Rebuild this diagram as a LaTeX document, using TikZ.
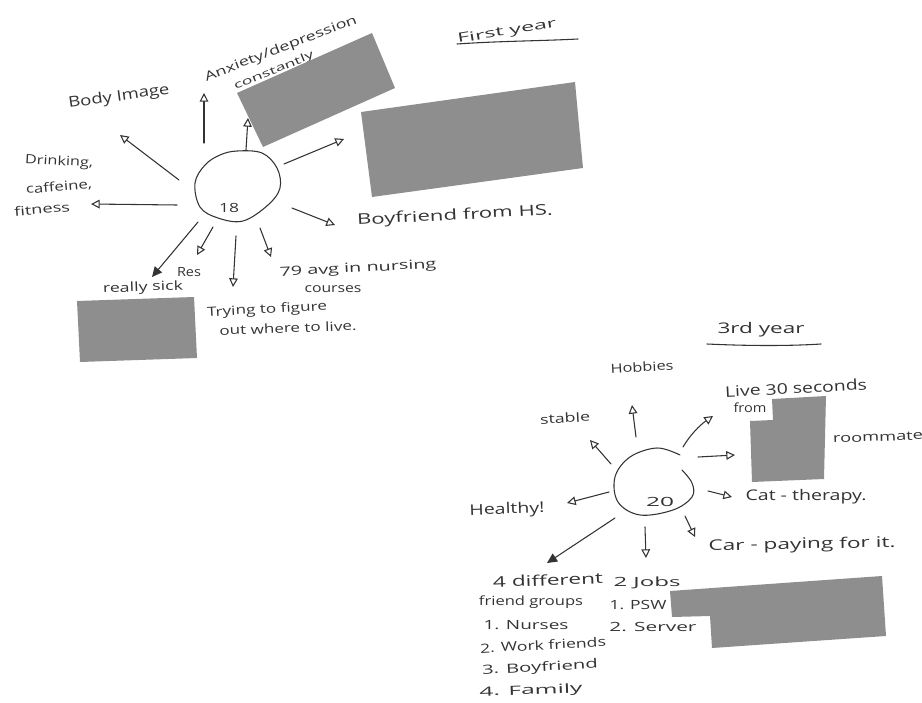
\documentclass[tikz,border=0pt]{standalone}
\usepackage{graphicx}
\usepackage{fontspec}
\setmainfont{Open Sans}
\usetikzlibrary{arrows.meta}
\newdimen\pxu \pxu=.75pt
\newcommand\hw[2]{\resizebox{#1\pxu}{\height}{#2}}
\definecolor{ink}{HTML}{333333}
\definecolor{redact}{HTML}{8E8E8E}
\tikzset{
  hand/.style={inner sep=0pt,text=ink,font=\fontsize{11}{12}\selectfont},
  small/.style={inner sep=0pt,text=ink,font=\fontsize{9.5}{10}\selectfont},
  tiny/.style={inner sep=0pt,text=ink,font=\fontsize{8}{9}\selectfont},
  pen/.style={draw=ink,line width=.8pt,line cap=round,line join=round},
  arr/.style={pen,-{Triangle[open,length=6.5pt,width=6.5pt]}},
  arrf/.style={pen,-{Triangle[length=7.5pt,width=7pt]}},
  block/.style={fill=redact,draw=none}
}
\begin{document}
\begin{tikzpicture}[x=.75pt,y=-.75pt]
\useasboundingbox (0,0) rectangle (922,703);
% --- First year labels
\node[small,rotate=9] (t1) at (507,32) {\hw{100}{First year}};
\node[hand,rotate=8] (body) at (119,97) {\hw{102}{Body Image}};
\node[small,rotate=21] (anx) at (281,49) {\hw{162}{Anxiety/depression}};
\node[tiny,rotate=22] (con) at (274,71) {\hw{85}{constantly}};
\node[small,rotate=-3] (dr) at (59,162) {\hw{68}{Drinking,}};
\node[small,rotate=5] (caf) at (59,187) {\hw{66}{caffeine,}};
\node[small,rotate=5] (fit) at (42,209) {\hw{56}{fitness}};
\node[hand,rotate=3] (bf) at (455,216) {\hw{196}{Boyfriend from HS.}};
\node[small] (res) at (189,272) {\hw{24}{Res}};
\node[small,rotate=2] (sick) at (143,288) {\hw{80}{really sick}};
\node[small,rotate=3] (avg) at (358,269) {\hw{157}{79 avg in nursing}};
\node[small] (crs) at (333,289) {\hw{57}{courses}};
\node[small,rotate=3] (try) at (267,310) {\hw{120}{Trying to figure}};
\node[small,rotate=2] (out) at (288,328) {\hw{137}{out where to live.}};
\node[small] (n18) at (229,208) {\hw{20}{18}};
% --- First year sketch
\node[draw=none,inner sep=0pt,minimum width=84\pxu,minimum height=70\pxu] (c1) at (237,186) {};
\draw[pen] plot[smooth cycle,tension=.6] coordinates {(237,151)(262,153)(277,168)(280,188)(268,205)(243,221)(218,218)(200,207)(195,183)(205,165)(220,155)};
\coordinate (a1s) at (179,180); \coordinate (a1e) at (120,135);
\coordinate (a2s) at (204,143); \coordinate (a2e) at (204,93);
\coordinate (a3s) at (246,150); \coordinate (a3e) at (248,118);
\coordinate (a4s) at (284,164); \coordinate (a4e) at (344,139);
\coordinate (a5s) at (292,208); \coordinate (a5e) at (335,225);
\coordinate (a6s) at (177,205); \coordinate (a6e) at (91,204);
\coordinate (a7s) at (198,222); \coordinate (a7e) at (152,277);
\coordinate (a8s) at (213,227); \coordinate (a8e) at (197,255);
\coordinate (a9s) at (236,236); \coordinate (a9e) at (233,287);
\coordinate (a10s) at (260,228); \coordinate (a10e) at (271,257);
\foreach \k in {1,2,3,4,5,6,8,9,10} \draw[arr] (a\k s) -- (a\k e);
\draw[arrf] (a7s) -- (a7e);
\coordinate (u1a) at (457,44); \coordinate (u1b) at (578,39);
\draw[pen] (u1a) .. controls (500,41) and (540,41) .. (u1b);
\fill[block] (237,93) -- (372,33) -- (395,88) -- (263,147) -- cycle;
\fill[block] (361,112) -- (575,82) -- (583,168) -- (372,197) -- cycle;
\fill[block] (77,301) -- (194,297) -- (197,358) -- (80,362) -- cycle;
% --- Third year labels
\node[hand] (t3) at (761,330) {\hw{87}{3rd year}};
\node[small,rotate=3] (hob) at (642,367) {\hw{63}{Hobbies}};
\node[small,rotate=3] (stb) at (565,418) {\hw{50}{stable}};
\node[hand,rotate=3] (live) at (796,388) {\hw{142}{Live 30 seconds}};
\node[small] (from) at (750,408) {\hw{33}{from}};
\node[small,rotate=2] (room) at (878,437) {\hw{90}{roommate}};
\node[hand] (cat) at (806,497) {\hw{121}{Cat - therapy.}};
\node[hand,rotate=1] (car) at (802,545) {\hw{187}{Car - paying for it.}};
\node[hand,rotate=2] (hl) at (507,510) {\hw{75}{Healthy!}};
\node[hand,rotate=2] (fd) at (548,580) {\hw{110}{4 different}};
\node[small] (fg) at (531,602) {\hw{104}{friend groups}};
\node[small] (f1) at (526,625) {\hw{85}{1. Nurses}};
\node[small,rotate=3] (f2) at (543,645) {\hw{126}{2. Work friends}};
\node[small,rotate=3] (f3) at (540,668) {\hw{116}{3. Boyfriend}};
\node[small,rotate=2] (f4) at (531,691) {\hw{103}{4. Family}};
\node[small] (j) at (647,583) {\hw{67}{2 Jobs}};
\node[small] (j1) at (638,605) {\hw{57}{1. PSW}};
\node[small] (j2) at (653,627) {\hw{87}{2. Server}};
\node[small] (n20) at (660,502) {\hw{28}{20}};
% --- Third year sketch
\node[draw=none,inner sep=0pt,minimum width=78\pxu,minimum height=66\pxu] (c2) at (654,482) {};
\draw[pen] plot[smooth,tension=.6] coordinates {(680,455)(657,448)(630,457)(615,477)(618,502)(640,515)(673,510)(692,497)(692,483)(682,470)};
\coordinate (b1s) at (611,464); \coordinate (b1e) at (590,440);
\coordinate (b2s) at (636,437); \coordinate (b2e) at (632,405);
\coordinate (b3s) at (683,447); \coordinate (b3e) at (713,416);
\coordinate (b4s) at (698,457); \coordinate (b4e) at (735,455);
\coordinate (b5s) at (708,491); \coordinate (b5e) at (732,497);
\coordinate (b6s) at (685,516); \coordinate (b6e) at (695,537);
\coordinate (b7s) at (609,492); \coordinate (b7e) at (567,503);
\coordinate (b8s) at (615,518); \coordinate (b8e) at (547,563);
\coordinate (b9s) at (645,527); \coordinate (b9e) at (646,558);
\foreach \k in {1,2,4,5,6,7,9} \draw[arr] (b\k s) -- (b\k e);
\draw[arr] (b3s) .. controls (690,435) and (700,425) .. (b3e);
\draw[arrf] (b8s) -- (b8e);
\coordinate (u3a) at (707,344); \coordinate (u3b) at (821,344);
\draw[pen] (u3a) .. controls (750,346) and (790,346) .. (u3b);
\fill[block] (772,399) -- (826,396) -- (824,479) -- (752,482) -- (750,421) -- (773,420) -- cycle;
\fill[block] (670,591) -- (882,576) -- (886,636) -- (712,648) -- (710,616) -- (672,617) -- cycle;
\end{tikzpicture}
\end{document}
